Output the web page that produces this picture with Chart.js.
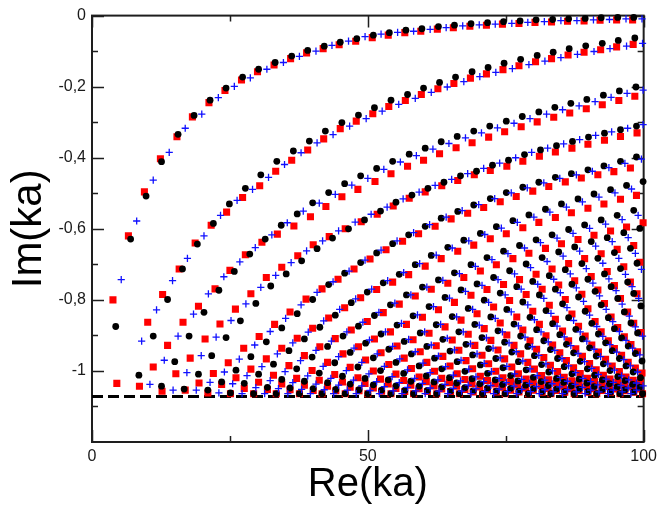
<!DOCTYPE html>
<html>
<head>
<meta charset="utf-8">
<title>Im(ka) vs Re(ka)</title>
<script src="https://cdn.jsdelivr.net/npm/chart.js@4.4.0/dist/chart.umd.min.js"></script>
<style>
  html, body { margin: 0; padding: 0; background: #fff; }
  canvas { display: block; }
</style>
</head>
<body>
<canvas id="chart" width="662" height="506"></canvas>
<script>
// resonances, one list of [Re(ka), Im(ka)] per branch

var blackModes = [
  [[4.3,-0.875],[7.0,-0.629],[9.8,-0.508],[12.6,-0.411],[15.6,-0.334],[18.5,-0.281],[21.4,-0.238],[24.3,-0.204],[27.3,-0.173],[30.2,-0.151],[33.2,-0.132],[36.2,-0.114],[39.1,-0.098],[42.1,-0.086],[45.0,-0.075],[48.0,-0.065],[51.0,-0.055],[53.9,-0.048],[56.9,-0.041],[59.8,-0.037],[62.8,-0.031],[65.7,-0.027],[68.7,-0.023],[71.7,-0.020],[74.6,-0.017],[77.6,-0.015],[80.5,-0.012],[83.5,-0.011],[86.4,-0.009],[89.4,-0.008],[92.3,-0.006],[95.3,-0.005],[98.2,-0.005]],
  [[8.5,-1.012],[11.1,-0.902],[13.7,-0.799],[16.4,-0.713],[19.1,-0.643],[22.0,-0.585],[24.9,-0.530],[27.8,-0.486],[30.6,-0.448],[33.5,-0.410],[36.5,-0.381],[39.4,-0.353],[42.3,-0.325],[45.3,-0.301],[48.3,-0.280],[51.2,-0.259],[54.2,-0.238],[57.2,-0.222],[60.1,-0.204],[63.0,-0.188],[65.9,-0.173],[68.9,-0.158],[71.8,-0.146],[74.7,-0.134],[77.7,-0.123],[80.7,-0.112],[83.6,-0.103],[86.5,-0.093],[89.5,-0.085],[92.5,-0.078],[95.4,-0.070],[98.4,-0.063]],
  [[12.6,-1.043],[15.0,-0.974],[17.6,-0.902],[20.3,-0.835],[23.0,-0.773],[25.8,-0.720],[28.6,-0.671],[31.4,-0.629],[34.3,-0.590],[37.2,-0.558],[40.0,-0.527],[42.9,-0.498],[45.8,-0.473],[48.7,-0.451],[51.6,-0.430],[54.5,-0.410],[57.5,-0.390],[60.4,-0.373],[63.3,-0.355],[66.2,-0.340],[69.2,-0.325],[72.1,-0.311],[75.1,-0.297],[78.0,-0.284],[81.0,-0.271],[83.9,-0.258],[86.8,-0.247],[89.7,-0.236],[92.7,-0.224],[95.6,-0.212],[98.6,-0.201]],
  [[16.7,-1.051],[19.3,-1.009],[21.7,-0.957],[24.3,-0.906],[26.9,-0.859],[29.7,-0.810],[32.4,-0.761],[35.2,-0.727],[38.0,-0.690],[40.8,-0.656],[43.6,-0.626],[46.5,-0.600],[49.4,-0.575],[52.3,-0.550],[55.1,-0.525],[58.0,-0.505],[60.9,-0.486],[63.8,-0.469],[66.8,-0.451],[69.7,-0.438],[72.6,-0.421],[75.5,-0.407],[78.4,-0.391],[81.3,-0.378],[84.2,-0.366],[87.1,-0.354],[90.0,-0.342],[92.9,-0.331],[95.8,-0.321],[98.7,-0.311]],
  [[21.0,-1.054],[23.5,-1.031],[26.1,-0.998],[28.8,-0.960],[31.6,-0.918],[34.4,-0.879],[37.2,-0.839],[40.0,-0.799],[42.9,-0.757],[45.8,-0.725],[48.7,-0.695],[51.6,-0.668],[54.5,-0.642],[57.4,-0.617],[60.4,-0.593],[63.3,-0.570],[66.3,-0.551],[69.2,-0.533],[72.2,-0.515],[75.1,-0.498],[78.1,-0.483],[81.0,-0.469],[84.0,-0.455],[86.9,-0.445],[89.9,-0.434],[92.8,-0.423],[95.8,-0.410],[98.7,-0.398]],
  [[25.1,-1.062],[27.6,-1.035],[30.2,-1.009],[32.9,-0.981],[35.7,-0.943],[38.5,-0.910],[41.3,-0.877],[44.1,-0.843],[47.0,-0.808],[49.9,-0.778],[52.8,-0.752],[55.7,-0.728],[58.6,-0.701],[61.5,-0.675],[64.5,-0.652],[67.4,-0.632],[70.4,-0.613],[73.3,-0.594],[76.3,-0.577],[79.2,-0.561],[82.2,-0.545],[85.1,-0.530],[88.1,-0.516],[91.0,-0.502],[94.0,-0.490],[96.9,-0.478],[99.9,-0.467]],
  [[29.3,-1.064],[31.8,-1.046],[34.4,-1.024],[37.1,-0.994],[39.9,-0.961],[42.7,-0.931],[45.5,-0.902],[48.3,-0.874],[51.2,-0.844],[54.1,-0.814],[57.0,-0.786],[59.9,-0.764],[62.8,-0.744],[65.7,-0.724],[68.7,-0.701],[71.6,-0.681],[74.6,-0.663],[77.5,-0.647],[80.5,-0.631],[83.4,-0.617],[86.4,-0.602],[89.3,-0.589],[92.3,-0.575],[95.2,-0.562],[98.2,-0.548]],
  [[33.4,-1.064],[35.9,-1.048],[38.5,-1.029],[41.2,-1.006],[44.0,-0.977],[46.8,-0.948],[49.6,-0.922],[52.4,-0.896],[55.3,-0.871],[58.2,-0.845],[61.1,-0.819],[64.0,-0.793],[66.9,-0.772],[69.8,-0.755],[72.8,-0.737],[75.7,-0.718],[78.7,-0.699],[81.6,-0.681],[84.6,-0.665],[87.5,-0.651],[90.5,-0.636],[93.4,-0.625],[96.4,-0.611],[99.3,-0.599]],
  [[37.6,-1.064],[40.1,-1.050],[42.7,-1.033],[45.4,-1.015],[48.2,-0.989],[51.0,-0.963],[53.8,-0.939],[56.6,-0.917],[59.5,-0.893],[62.4,-0.870],[65.3,-0.847],[68.2,-0.824],[71.1,-0.801],[74.0,-0.781],[77.0,-0.763],[79.9,-0.748],[82.9,-0.732],[85.8,-0.715],[88.8,-0.698],[91.7,-0.683],[94.7,-0.667],[97.6,-0.655]],
  [[41.7,-1.064],[44.2,-1.052],[46.8,-1.037],[49.5,-1.021],[52.3,-0.999],[55.1,-0.976],[57.9,-0.952],[60.7,-0.931],[63.6,-0.911],[66.5,-0.890],[69.4,-0.869],[72.3,-0.848],[75.2,-0.827],[78.1,-0.806],[81.1,-0.786],[84.0,-0.770],[87.0,-0.756],[89.9,-0.742],[92.9,-0.727],[95.8,-0.712],[98.8,-0.697]],
  [[45.9,-1.064],[48.4,-1.053],[51.0,-1.039],[53.7,-1.025],[56.5,-1.007],[59.3,-0.986],[62.1,-0.964],[64.9,-0.944],[67.8,-0.925],[70.7,-0.906],[73.6,-0.887],[76.5,-0.868],[79.4,-0.849],[82.3,-0.830],[85.3,-0.811],[88.2,-0.792],[91.2,-0.776],[94.1,-0.763],[97.1,-0.750]],
  [[50.0,-1.064],[52.5,-1.054],[55.1,-1.042],[57.8,-1.029],[60.6,-1.014],[63.4,-0.994],[66.2,-0.974],[69.0,-0.955],[71.9,-0.937],[74.8,-0.919],[77.7,-0.902],[80.6,-0.884],[83.5,-0.867],[86.4,-0.850],[89.4,-0.832],[92.3,-0.814],[95.3,-0.796],[98.2,-0.782]],
  [[54.2,-1.064],[56.7,-1.055],[59.3,-1.043],[62.0,-1.031],[64.8,-1.019],[67.6,-1.001],[70.4,-0.983],[73.2,-0.965],[76.1,-0.947],[79.0,-0.931],[81.9,-0.915],[84.8,-0.898],[87.7,-0.883],[90.6,-0.866],[93.6,-0.850],[96.5,-0.834],[99.5,-0.817]],
  [[58.3,-1.064],[60.8,-1.055],[63.4,-1.045],[66.1,-1.034],[68.9,-1.022],[71.7,-1.007],[74.5,-0.991],[77.3,-0.974],[80.2,-0.957],[83.1,-0.940],[86.0,-0.925],[88.9,-0.910],[91.8,-0.896],[94.7,-0.881],[97.7,-0.865]],
  [[62.5,-1.064],[65.0,-1.056],[67.6,-1.047],[70.3,-1.036],[73.1,-1.025],[75.9,-1.013],[78.7,-0.997],[81.5,-0.982],[84.4,-0.965],[87.3,-0.949],[90.2,-0.935],[93.1,-0.921],[96.0,-0.907],[98.9,-0.893]],
  [[66.6,-1.064],[69.1,-1.056],[71.7,-1.048],[74.4,-1.038],[77.2,-1.028],[80.0,-1.018],[82.8,-1.003],[85.6,-0.988],[88.5,-0.973],[91.4,-0.958],[94.3,-0.943],[97.2,-0.930]],
  [[70.8,-1.064],[73.3,-1.057],[75.9,-1.049],[78.6,-1.040],[81.4,-1.030],[84.2,-1.021],[87.0,-1.008],[89.8,-0.994],[92.7,-0.980],[95.6,-0.965],[98.5,-0.951]],
  [[74.9,-1.064],[77.4,-1.057],[80.0,-1.050],[82.7,-1.041],[85.5,-1.032],[88.3,-1.023],[91.1,-1.012],[93.9,-0.999],[96.8,-0.986],[99.7,-0.972]],
  [[79.1,-1.064],[81.6,-1.058],[84.2,-1.051],[86.9,-1.042],[89.7,-1.034],[92.5,-1.025],[95.3,-1.016],[98.1,-1.003]],
  [[83.2,-1.064],[85.7,-1.058],[88.3,-1.051],[91.0,-1.044],[93.8,-1.036],[96.6,-1.027],[99.4,-1.019]],
  [[87.4,-1.064],[89.9,-1.058],[92.5,-1.052],[95.2,-1.045],[98.0,-1.038]],
  [[91.5,-1.064],[94.0,-1.059],[96.6,-1.053],[99.3,-1.046]],
  [[95.7,-1.064],[98.2,-1.059]],
  [[99.8,-1.064]]
];

var redModes = [
  [[3.8,-0.800],[6.6,-0.620],[9.5,-0.496],[12.4,-0.403],[15.4,-0.341],[18.2,-0.285],[21.2,-0.245],[24.1,-0.211],[27.1,-0.181],[30.0,-0.158],[33.0,-0.139],[36.0,-0.121],[38.9,-0.105],[41.9,-0.093],[44.8,-0.082],[47.8,-0.072],[50.8,-0.062],[53.7,-0.055],[56.7,-0.048],[59.6,-0.044],[62.6,-0.038],[65.5,-0.034],[68.5,-0.030],[71.5,-0.027],[74.4,-0.024],[77.4,-0.022],[80.3,-0.019],[83.3,-0.018],[86.2,-0.016],[89.2,-0.015],[92.1,-0.013],[95.1,-0.012],[98.0,-0.012]],
  [[4.5,-1.035],[10.1,-0.863],[12.8,-0.785],[15.8,-0.713],[18.7,-0.640],[21.6,-0.590],[24.4,-0.553],[27.3,-0.512],[30.4,-0.479],[33.3,-0.438],[36.2,-0.407],[39.1,-0.378],[42.0,-0.347],[45.0,-0.318],[47.9,-0.297],[50.9,-0.276],[53.8,-0.256],[56.8,-0.239],[59.7,-0.222],[62.7,-0.206],[65.6,-0.191],[68.6,-0.176],[71.5,-0.164],[74.5,-0.152],[77.4,-0.141],[80.4,-0.130],[83.3,-0.121],[86.3,-0.111],[89.2,-0.103],[92.2,-0.096],[95.1,-0.088],[98.1,-0.081]],
  [[8.6,-1.043],[11.1,-0.989],[13.7,-0.928],[16.5,-0.863],[19.3,-0.818],[22.3,-0.769],[25.0,-0.717],[27.8,-0.673],[30.8,-0.638],[33.6,-0.615],[36.6,-0.592],[39.6,-0.566],[42.4,-0.537],[45.3,-0.510],[48.2,-0.489],[51.3,-0.467],[54.2,-0.445],[57.2,-0.424],[60.1,-0.407],[63.0,-0.389],[66.0,-0.372],[68.9,-0.358],[71.9,-0.342],[74.8,-0.327],[77.8,-0.313],[80.7,-0.299],[83.7,-0.286],[86.6,-0.274],[89.6,-0.262],[92.5,-0.251],[95.5,-0.239],[98.4,-0.227]],
  [[12.7,-1.057],[15.2,-1.008],[17.8,-0.964],[20.5,-0.910],[23.2,-0.868],[26.0,-0.826],[28.8,-0.783],[31.6,-0.737],[34.4,-0.708],[37.3,-0.676],[40.1,-0.645],[43.0,-0.622],[45.9,-0.600],[48.8,-0.580],[51.7,-0.559],[54.6,-0.536],[57.5,-0.514],[60.4,-0.496],[63.4,-0.479],[66.3,-0.464],[69.3,-0.448],[72.2,-0.436],[75.2,-0.424],[78.1,-0.410],[81.1,-0.396],[84.0,-0.384],[87.0,-0.373],[89.9,-0.362],[92.9,-0.351],[95.8,-0.340],[98.8,-0.330]],
  [[16.9,-1.054],[19.4,-1.034],[22.0,-1.007],[24.7,-0.977],[27.5,-0.936],[30.3,-0.903],[33.1,-0.869],[35.9,-0.834],[38.8,-0.798],[41.7,-0.769],[44.6,-0.742],[47.5,-0.713],[50.4,-0.685],[53.3,-0.659],[56.3,-0.635],[59.2,-0.614],[62.2,-0.593],[65.1,-0.572],[68.1,-0.556],[71.0,-0.540],[74.0,-0.524],[76.9,-0.509],[79.9,-0.494],[82.8,-0.481],[85.8,-0.468],[88.7,-0.457],[91.7,-0.448],[94.6,-0.439],[97.6,-0.429]],
  [[21.0,-1.062],[23.5,-1.038],[26.1,-1.019],[28.8,-0.995],[31.6,-0.966],[34.4,-0.936],[37.2,-0.908],[40.0,-0.880],[42.9,-0.851],[45.8,-0.822],[48.7,-0.794],[51.6,-0.771],[54.5,-0.750],[57.4,-0.729],[60.4,-0.705],[63.3,-0.684],[66.3,-0.663],[69.2,-0.646],[72.2,-0.628],[75.1,-0.614],[78.1,-0.597],[81.0,-0.582],[84.0,-0.568],[86.9,-0.555],[89.9,-0.542],[92.8,-0.530],[95.8,-0.517],[98.7,-0.506]],
  [[25.1,-1.064],[27.6,-1.049],[30.2,-1.032],[32.9,-1.012],[35.7,-0.985],[38.5,-0.957],[41.3,-0.932],[44.1,-0.909],[47.0,-0.885],[49.9,-0.861],[52.8,-0.836],[55.7,-0.812],[58.6,-0.789],[61.5,-0.770],[64.5,-0.753],[67.4,-0.737],[70.4,-0.719],[73.3,-0.701],[76.3,-0.684],[79.2,-0.669],[82.2,-0.655],[85.1,-0.642],[88.1,-0.630],[91.0,-0.618],[94.0,-0.606],[96.9,-0.595],[99.9,-0.583]],
  [[29.3,-1.064],[31.8,-1.052],[34.4,-1.037],[37.1,-1.021],[39.9,-0.999],[42.7,-0.976],[45.5,-0.952],[48.3,-0.932],[51.2,-0.910],[54.1,-0.890],[57.0,-0.869],[59.9,-0.849],[62.8,-0.828],[65.7,-0.807],[68.7,-0.787],[71.6,-0.771],[74.6,-0.757],[77.5,-0.743],[80.5,-0.728],[83.4,-0.713],[86.4,-0.698],[89.3,-0.684],[92.3,-0.670],[95.2,-0.658],[98.2,-0.647]],
  [[33.4,-1.064],[35.9,-1.053],[38.5,-1.040],[41.2,-1.026],[44.0,-1.010],[46.8,-0.990],[49.6,-0.969],[52.4,-0.949],[55.3,-0.930],[58.2,-0.912],[61.1,-0.894],[64.0,-0.876],[66.9,-0.857],[69.8,-0.839],[72.8,-0.820],[75.7,-0.802],[78.7,-0.785],[81.6,-0.770],[84.6,-0.758],[87.5,-0.746],[90.5,-0.734],[93.4,-0.720],[96.4,-0.707],[99.3,-0.694]],
  [[37.6,-1.064],[40.1,-1.055],[42.7,-1.043],[45.4,-1.031],[48.2,-1.019],[51.0,-1.000],[53.8,-0.982],[56.6,-0.964],[59.5,-0.946],[62.4,-0.929],[65.3,-0.913],[68.2,-0.897],[71.1,-0.881],[74.0,-0.865],[77.0,-0.848],[79.9,-0.832],[82.9,-0.815],[85.8,-0.799],[88.8,-0.784],[91.7,-0.772],[94.7,-0.760],[97.6,-0.750]],
  [[41.7,-1.064],[44.2,-1.056],[46.8,-1.046],[49.5,-1.035],[52.3,-1.023],[55.1,-1.009],[57.9,-0.993],[60.7,-0.976],[63.6,-0.959],[66.5,-0.942],[69.4,-0.928],[72.3,-0.914],[75.2,-0.899],[78.1,-0.885],[81.1,-0.869],[84.0,-0.855],[87.0,-0.840],[89.9,-0.825],[92.9,-0.810],[95.8,-0.796],[98.8,-0.783]],
  [[45.9,-1.064],[48.4,-1.056],[51.0,-1.048],[53.7,-1.037],[56.5,-1.027],[59.3,-1.017],[62.1,-1.001],[64.9,-0.986],[67.8,-0.971],[70.7,-0.956],[73.6,-0.941],[76.5,-0.928],[79.4,-0.915],[82.3,-0.901],[85.3,-0.888],[88.2,-0.874],[91.2,-0.861],[94.1,-0.848],[97.1,-0.834]],
  [[50.0,-1.064],[52.5,-1.057],[55.1,-1.049],[57.8,-1.040],[60.6,-1.030],[63.4,-1.021],[66.2,-1.008],[69.0,-0.994],[71.9,-0.980],[74.8,-0.966],[77.7,-0.952],[80.6,-0.939],[83.5,-0.927],[86.4,-0.915],[89.4,-0.902],[92.3,-0.890],[95.3,-0.878],[98.2,-0.866]],
  [[54.2,-1.064],[56.7,-1.058],[59.3,-1.050],[62.0,-1.042],[64.8,-1.033],[67.6,-1.024],[70.4,-1.015],[73.2,-1.001],[76.1,-0.989],[79.0,-0.976],[81.9,-0.962],[84.8,-0.949],[87.7,-0.938],[90.6,-0.927],[93.6,-0.915],[96.5,-0.904],[99.5,-0.892]],
  [[58.3,-1.064],[60.8,-1.058],[63.4,-1.051],[66.1,-1.043],[68.9,-1.036],[71.7,-1.027],[74.5,-1.019],[77.3,-1.008],[80.2,-0.995],[83.1,-0.984],[86.0,-0.971],[88.9,-0.959],[91.8,-0.947],[94.7,-0.937],[97.7,-0.926]],
  [[62.5,-1.064],[65.0,-1.058],[67.6,-1.052],[70.3,-1.045],[73.1,-1.037],[75.9,-1.030],[78.7,-1.023],[81.5,-1.013],[84.4,-1.002],[87.3,-0.991],[90.2,-0.979],[93.1,-0.967],[96.0,-0.956],[98.9,-0.946]],
  [[66.6,-1.064],[69.1,-1.059],[71.7,-1.053],[74.4,-1.046],[77.2,-1.039],[80.0,-1.032],[82.8,-1.025],[85.6,-1.018],[88.5,-1.007],[91.4,-0.997],[94.3,-0.986],[97.2,-0.976]],
  [[70.8,-1.064],[73.3,-1.059],[75.9,-1.054],[78.6,-1.048],[81.4,-1.041],[84.2,-1.034],[87.0,-1.028],[89.8,-1.021],[92.7,-1.012],[95.6,-1.002],[98.5,-0.992]],
  [[74.9,-1.064],[77.4,-1.059],[80.0,-1.054],[82.7,-1.049],[85.5,-1.042],[88.3,-1.036],[91.1,-1.030],[93.9,-1.023],[96.8,-1.017],[99.7,-1.006]],
  [[79.1,-1.064],[81.6,-1.060],[84.2,-1.055],[86.9,-1.050],[89.7,-1.043],[92.5,-1.038],[95.3,-1.031],[98.1,-1.026]],
  [[83.2,-1.064],[85.7,-1.060],[88.3,-1.055],[91.0,-1.050],[93.8,-1.044],[96.6,-1.039],[99.4,-1.033]],
  [[87.4,-1.064],[89.9,-1.060],[92.5,-1.055],[95.2,-1.051],[98.0,-1.045]],
  [[91.5,-1.064],[94.0,-1.060],[96.6,-1.056],[99.3,-1.051]],
  [[95.7,-1.064],[98.2,-1.060]],
  [[99.8,-1.064]]
];

var blueModes = [
  [[5.3,-0.743],[8.1,-0.578],[11.1,-0.463],[14.0,-0.385],[16.9,-0.317],[19.9,-0.277],[22.9,-0.231],[25.8,-0.199],[28.7,-0.175],[31.7,-0.151],[34.7,-0.132],[37.6,-0.115],[40.6,-0.100],[43.5,-0.084],[46.5,-0.072],[49.5,-0.059],[52.4,-0.052],[55.4,-0.047],[58.3,-0.044],[61.3,-0.039],[64.2,-0.034],[67.2,-0.029],[70.2,-0.026],[73.1,-0.024],[76.1,-0.022],[79.0,-0.019],[82.0,-0.017],[85.0,-0.014],[87.9,-0.014],[90.9,-0.012],[93.8,-0.011],[96.8,-0.009],[99.7,-0.009]],
  [[9.0,-0.916],[11.7,-0.828],[14.6,-0.746],[17.3,-0.683],[20.3,-0.620],[23.3,-0.562],[26.3,-0.520],[29.1,-0.489],[32.0,-0.455],[34.9,-0.419],[37.9,-0.386],[40.8,-0.358],[43.7,-0.335],[46.7,-0.311],[49.7,-0.290],[52.6,-0.269],[55.6,-0.250],[58.6,-0.233],[61.5,-0.216],[64.4,-0.201],[67.4,-0.186],[70.3,-0.172],[73.2,-0.160],[76.2,-0.149],[79.2,-0.138],[82.1,-0.128],[85.0,-0.118],[88.0,-0.109],[91.0,-0.101],[93.9,-0.093],[96.9,-0.086],[99.8,-0.078]],
  [[10.5,-1.038],[13.1,-0.970],[15.6,-0.902],[18.4,-0.840],[21.1,-0.783],[23.9,-0.735],[26.8,-0.693],[29.6,-0.653],[32.6,-0.617],[35.4,-0.583],[38.3,-0.550],[41.2,-0.528],[44.1,-0.503],[47.1,-0.477],[50.0,-0.458],[52.9,-0.433],[55.9,-0.412],[58.8,-0.394],[61.8,-0.376],[64.7,-0.360],[67.7,-0.344],[70.6,-0.330],[73.5,-0.316],[76.5,-0.303],[79.4,-0.290],[82.4,-0.277],[85.3,-0.265],[88.3,-0.254],[91.2,-0.242],[94.1,-0.230],[97.0,-0.219],[99.9,-0.210]],
  [[14.7,-1.054],[17.2,-1.005],[19.8,-0.957],[22.5,-0.905],[25.2,-0.858],[27.9,-0.811],[30.6,-0.765],[33.3,-0.731],[36.1,-0.695],[38.9,-0.662],[41.8,-0.634],[44.7,-0.606],[47.7,-0.581],[50.6,-0.559],[53.5,-0.539],[56.4,-0.516],[59.3,-0.497],[62.2,-0.478],[65.2,-0.461],[68.1,-0.445],[71.0,-0.430],[73.9,-0.415],[76.8,-0.400],[79.7,-0.385],[82.6,-0.373],[85.5,-0.361],[88.4,-0.349],[91.3,-0.337],[94.2,-0.327],[97.1,-0.317],[99.9,-0.307]],
  [[18.9,-1.054],[21.4,-1.032],[24.0,-1.003],[26.7,-0.967],[29.5,-0.927],[32.3,-0.889],[35.1,-0.852],[37.9,-0.814],[40.8,-0.779],[43.7,-0.749],[46.6,-0.719],[49.5,-0.688],[52.4,-0.660],[55.3,-0.634],[58.3,-0.611],[61.2,-0.588],[64.2,-0.567],[67.1,-0.549],[70.1,-0.532],[73.0,-0.515],[76.0,-0.499],[78.9,-0.485],[81.9,-0.471],[84.8,-0.458],[87.8,-0.448],[90.7,-0.438],[93.7,-0.428],[96.6,-0.416],[99.6,-0.404]],
  [[23.0,-1.062],[25.5,-1.036],[28.1,-1.013],[30.8,-0.988],[33.6,-0.952],[36.4,-0.921],[39.2,-0.891],[42.0,-0.859],[44.9,-0.827],[47.8,-0.797],[50.7,-0.770],[53.6,-0.746],[56.5,-0.723],[59.4,-0.698],[62.4,-0.674],[65.3,-0.654],[68.3,-0.634],[71.2,-0.616],[74.2,-0.598],[77.1,-0.582],[80.1,-0.567],[83.0,-0.553],[86.0,-0.539],[88.9,-0.524],[91.9,-0.511],[94.8,-0.499],[97.8,-0.488]],
  [[27.2,-1.064],[29.7,-1.047],[32.3,-1.027],[35.0,-1.002],[37.8,-0.971],[40.6,-0.942],[43.4,-0.916],[46.2,-0.890],[49.1,-0.863],[52.0,-0.835],[54.9,-0.809],[57.8,-0.786],[60.7,-0.764],[63.6,-0.745],[66.6,-0.726],[69.5,-0.706],[72.5,-0.687],[75.4,-0.670],[78.4,-0.654],[81.3,-0.639],[84.3,-0.626],[87.2,-0.613],[90.2,-0.599],[93.1,-0.587],[96.1,-0.574],[99.0,-0.562]],
  [[31.3,-1.064],[33.8,-1.050],[36.4,-1.033],[39.1,-1.014],[41.9,-0.987],[44.7,-0.960],[47.5,-0.936],[50.3,-0.913],[53.2,-0.890],[56.1,-0.866],[59.0,-0.842],[61.9,-0.819],[64.8,-0.795],[67.7,-0.776],[70.7,-0.759],[73.6,-0.743],[76.6,-0.727],[79.5,-0.709],[82.5,-0.692],[85.4,-0.677],[88.4,-0.663],[91.3,-0.649],[94.3,-0.636],[97.2,-0.625]],
  [[35.5,-1.064],[38.0,-1.052],[40.6,-1.037],[43.3,-1.021],[46.1,-0.999],[48.9,-0.976],[51.7,-0.952],[54.5,-0.931],[57.4,-0.911],[60.3,-0.890],[63.2,-0.869],[66.1,-0.848],[69.0,-0.827],[71.9,-0.807],[74.9,-0.786],[77.8,-0.770],[80.8,-0.756],[83.7,-0.742],[86.7,-0.727],[89.6,-0.712],[92.6,-0.697],[95.5,-0.683],[98.5,-0.669]],
  [[39.6,-1.064],[42.1,-1.053],[44.7,-1.040],[47.4,-1.026],[50.2,-1.008],[53.0,-0.987],[55.8,-0.966],[58.6,-0.946],[61.5,-0.927],[64.4,-0.908],[67.3,-0.890],[70.2,-0.871],[73.1,-0.852],[76.0,-0.834],[79.0,-0.814],[81.9,-0.796],[84.9,-0.780],[87.8,-0.766],[90.8,-0.753],[93.7,-0.741],[96.7,-0.728],[99.6,-0.714]],
  [[43.8,-1.064],[46.3,-1.054],[48.9,-1.042],[51.6,-1.030],[54.4,-1.016],[57.2,-0.997],[60.0,-0.978],[62.8,-0.958],[65.7,-0.941],[68.6,-0.924],[71.5,-0.907],[74.4,-0.890],[77.3,-0.873],[80.2,-0.856],[83.2,-0.838],[86.1,-0.822],[89.1,-0.804],[92.0,-0.789],[95.0,-0.774],[97.9,-0.763]],
  [[47.9,-1.064],[50.4,-1.055],[53.0,-1.044],[55.7,-1.033],[58.5,-1.021],[61.3,-1.005],[64.1,-0.988],[66.9,-0.970],[69.8,-0.952],[72.7,-0.936],[75.6,-0.921],[78.5,-0.905],[81.4,-0.890],[84.3,-0.874],[87.3,-0.858],[90.2,-0.843],[93.2,-0.827],[96.1,-0.812],[99.1,-0.796]],
  [[52.1,-1.064],[54.6,-1.056],[57.2,-1.046],[59.9,-1.035],[62.7,-1.025],[65.5,-1.012],[68.3,-0.995],[71.1,-0.979],[74.0,-0.963],[76.9,-0.946],[79.8,-0.932],[82.7,-0.918],[85.6,-0.904],[88.5,-0.890],[91.5,-0.875],[94.4,-0.861],[97.4,-0.846]],
  [[56.2,-1.064],[58.7,-1.056],[61.3,-1.048],[64.0,-1.038],[66.8,-1.028],[69.6,-1.017],[72.4,-1.002],[75.2,-0.987],[78.1,-0.972],[81.0,-0.956],[83.9,-0.942],[86.8,-0.929],[89.7,-0.916],[92.6,-0.903],[95.6,-0.889],[98.5,-0.876]],
  [[60.4,-1.064],[62.9,-1.057],[65.5,-1.049],[68.2,-1.040],[71.0,-1.030],[73.8,-1.021],[76.6,-1.008],[79.4,-0.994],[82.3,-0.980],[85.2,-0.965],[88.1,-0.951],[91.0,-0.939],[93.9,-0.926],[96.8,-0.914],[99.8,-0.902]],
  [[64.5,-1.064],[67.0,-1.057],[69.6,-1.050],[72.3,-1.041],[75.1,-1.033],[77.9,-1.024],[80.7,-1.013],[83.5,-1.000],[86.4,-0.986],[89.3,-0.974],[92.2,-0.960],[95.1,-0.947],[98.0,-0.936]],
  [[68.7,-1.064],[71.2,-1.058],[73.8,-1.051],[76.5,-1.043],[79.3,-1.035],[82.1,-1.026],[84.9,-1.018],[87.7,-1.005],[90.6,-0.993],[93.5,-0.980],[96.4,-0.968],[99.3,-0.955]],
  [[72.8,-1.064],[75.3,-1.058],[77.9,-1.052],[80.6,-1.044],[83.4,-1.036],[86.2,-1.029],[89.0,-1.021],[91.8,-1.010],[94.7,-0.998],[97.6,-0.986]],
  [[77.0,-1.064],[79.5,-1.058],[82.1,-1.053],[84.8,-1.045],[87.6,-1.038],[90.4,-1.030],[93.2,-1.023],[96.0,-1.014],[98.9,-1.003]],
  [[81.1,-1.064],[83.6,-1.059],[86.2,-1.053],[88.9,-1.046],[91.7,-1.039],[94.5,-1.032],[97.3,-1.025]],
  [[85.3,-1.064],[87.8,-1.059],[90.4,-1.054],[93.1,-1.048],[95.9,-1.041],[98.7,-1.034]],
  [[89.4,-1.064],[91.9,-1.059],[94.5,-1.054],[97.2,-1.048],[99.9,-1.042]],
  [[93.6,-1.064],[96.1,-1.059],[98.7,-1.054]],
  [[97.7,-1.064]]
];

var asymptote = -1.072;

var xTickValues = [0, 50, 100];
var xTickLabels = ['0', '50', '100'];
var xMinorTicks = [25, 75];
var yTickValues = [0, -0.2, -0.4, -0.6, -0.8, -1];
var yTickLabels = ['0', '-0,2', '-0,4', '-0,6', '-0,8', '-1'];
var yMinorTicks = [-0.1, -0.3, -0.5, -0.7, -0.9, -1.1];

function toPoints(modes) {
  var out = [];
  modes.forEach(function (branch) {
    branch.forEach(function (p) { out.push({x: p[0], y: p[1]}); });
  });
  return out;
}

function labelFor(values, labels, v) {
  for (var i = 0; i < values.length; i++) {
    if (Math.abs(values[i] - v) < 1e-6) return labels[i];
  }
  return '';
}

var fontFamily = '"Liberation Sans", Arial, Helvetica, sans-serif';

// frame with inward ticks on all four sides
var frameTicks = {
  id: 'frameTicks',
  beforeDatasetsDraw: function (chart) {
    var ctx = chart.ctx, a = chart.chartArea;
    var xs = chart.scales.x, ys = chart.scales.y;
    ctx.save();
    ctx.strokeStyle = '#1e1e1e';
    ctx.lineWidth = 1.5;
    ctx.beginPath();
    function xTick(v, len) {
      var px = Math.round(xs.getPixelForValue(v)) + 0.5;
      ctx.moveTo(px, a.bottom); ctx.lineTo(px, a.bottom - len);
      ctx.moveTo(px, a.top); ctx.lineTo(px, a.top + len);
    }
    function yTick(v, len) {
      var py = Math.round(ys.getPixelForValue(v)) + 0.5;
      ctx.moveTo(a.left, py); ctx.lineTo(a.left + len, py);
      ctx.moveTo(a.right, py); ctx.lineTo(a.right - len, py);
    }
    xTickValues.forEach(function (v) { xTick(v, 12); });
    xMinorTicks.forEach(function (v) { xTick(v, 6); });
    yTickValues.forEach(function (v) { yTick(v, 12); });
    yMinorTicks.forEach(function (v) { yTick(v, 6); });
    ctx.stroke();
    ctx.lineWidth = 2;
    ctx.strokeRect(a.left, a.top, a.right - a.left, a.bottom - a.top);
    ctx.restore();
  }
};

new Chart(document.getElementById('chart'), {
  type: 'scatter',
  data: {
    datasets: [
      {
        label: 'blue',
        data: toPoints(blueModes),
        pointStyle: 'cross',
        pointRadius: 3.6,
        borderColor: '#1010ff',
        backgroundColor: '#1010ff',
        pointBorderWidth: 1.3,
        clip: 6
      },
      {
        label: 'black',
        data: toPoints(blackModes),
        pointStyle: 'circle',
        pointRadius: 3.4,
        backgroundColor: '#000000',
        borderWidth: 0,
        pointBorderWidth: 0,
        clip: 6
      },
      {
        label: 'red',
        data: toPoints(redModes),
        pointStyle: 'rect',
        pointRadius: 5,
        backgroundColor: '#ff0000',
        borderWidth: 0,
        pointBorderWidth: 0,
        clip: 6
      },
      {
        type: 'line',
        label: 'asymptote',
        data: [{x: 0, y: asymptote}, {x: 100, y: asymptote}],
        borderColor: '#000000',
        borderWidth: 3,
        borderDash: [11, 5],
        pointRadius: 0,
        fill: false
      }
    ]
  },
  options: {
    responsive: false,
    animation: false,
    devicePixelRatio: 1,
    layout: {
      autoPadding: false,
      padding: {top: 15, right: 17, left: 0, bottom: 0}
    },
    plugins: {
      legend: {display: false},
      tooltip: {enabled: false}
    },
    scales: {
      x: {
        type: 'linear',
        min: 0,
        max: 100,
        afterFit: function (s) { s.height = 64; },
        grid: {display: false, drawTicks: false},
        border: {display: false},
        ticks: {
          stepSize: 25,
          autoSkip: false,
          maxRotation: 0,
          padding: 5,
          color: '#1a1a1a',
          font: {family: fontFamily, size: 16},
          callback: function (v) { return labelFor(xTickValues, xTickLabels, v); }
        },
        title: {
          display: true,
          text: 'Re(ka)',
          color: '#000',
          font: {family: fontFamily, size: 40, lineHeight: 1},
          padding: {top: 0, bottom: 1}
        }
      },
      y: {
        type: 'linear',
        min: -1.2,
        max: 0,
        afterFit: function (s) { s.width = 92; },
        grid: {display: false, drawTicks: false},
        border: {display: false},
        ticks: {
          stepSize: 0.1,
          autoSkip: false,
          padding: 6,
          color: '#1a1a1a',
          font: {family: fontFamily, size: 16},
          callback: function (v) { return labelFor(yTickValues, yTickLabels, v); }
        },
        title: {
          display: true,
          text: 'Im(ka)',
          color: '#000',
          font: {family: fontFamily, size: 42, lineHeight: 1},
          padding: {top: 8, bottom: 0}
        }
      }
    }
  },
  plugins: [frameTicks]
});
</script>
</body>
</html>
